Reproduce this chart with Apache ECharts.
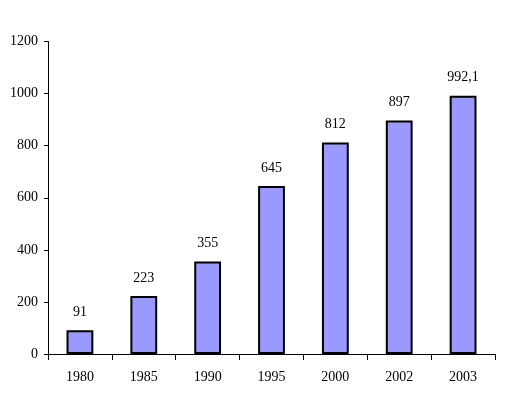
<!DOCTYPE html>
<html><head><meta charset="utf-8">
<script src="https://cdn.jsdelivr.net/npm/echarts@6/dist/echarts.min.js"></script>
<style>html,body{margin:0;padding:0;background:#fff}#c{width:519px;height:396px}</style>
</head><body><div id="c"></div>
<script>
const categories = ['1980','1985','1990','1995','2000','2002','2003'];
const values = [91, 223, 355, 645, 812, 897, 992.1];
const yTicks = {min: 0, max: 1200, interval: 200};

const chart = echarts.init(document.getElementById('c'), null, {renderer: 'canvas'});
const font = '"Liberation Serif", "Times New Roman", serif';
chart.setOption({
  animation: false,
  backgroundColor: '#fff',
  grid: {left: 48, right: 24, top: 41.5, bottom: 42, containLabel: false},
  xAxis: {
    type: 'category', data: categories,
    axisLine: {lineStyle: {color: '#000', width: 1}},
    axisTick: {show: true, length: 6, lineStyle: {color: '#000'}},
    axisLabel: {color: '#000', fontFamily: font, fontSize: 14, margin: 16}
  },
  yAxis: {
    type: 'value', min: yTicks.min, max: yTicks.max, interval: yTicks.interval,
    axisLine: {show: true, lineStyle: {color: '#000', width: 1}},
    axisTick: {show: true, length: 4, lineStyle: {color: '#000'}},
    splitLine: {show: false},
    axisLabel: {color: '#000', fontFamily: font, fontSize: 14, margin: 10, formatter: v => String(v)}
  },
  series: [{
    type: 'bar', data: values, barWidth: '42%',
    itemStyle: {color: '#9999FF', borderColor: '#000', borderWidth: 2},
    label: {show: true, position: 'top', distance: 11, color: '#000', fontFamily: font, fontSize: 14,
      formatter: p => String(p.value).replace('.', ',')}
  }]
});
</script></body></html>
